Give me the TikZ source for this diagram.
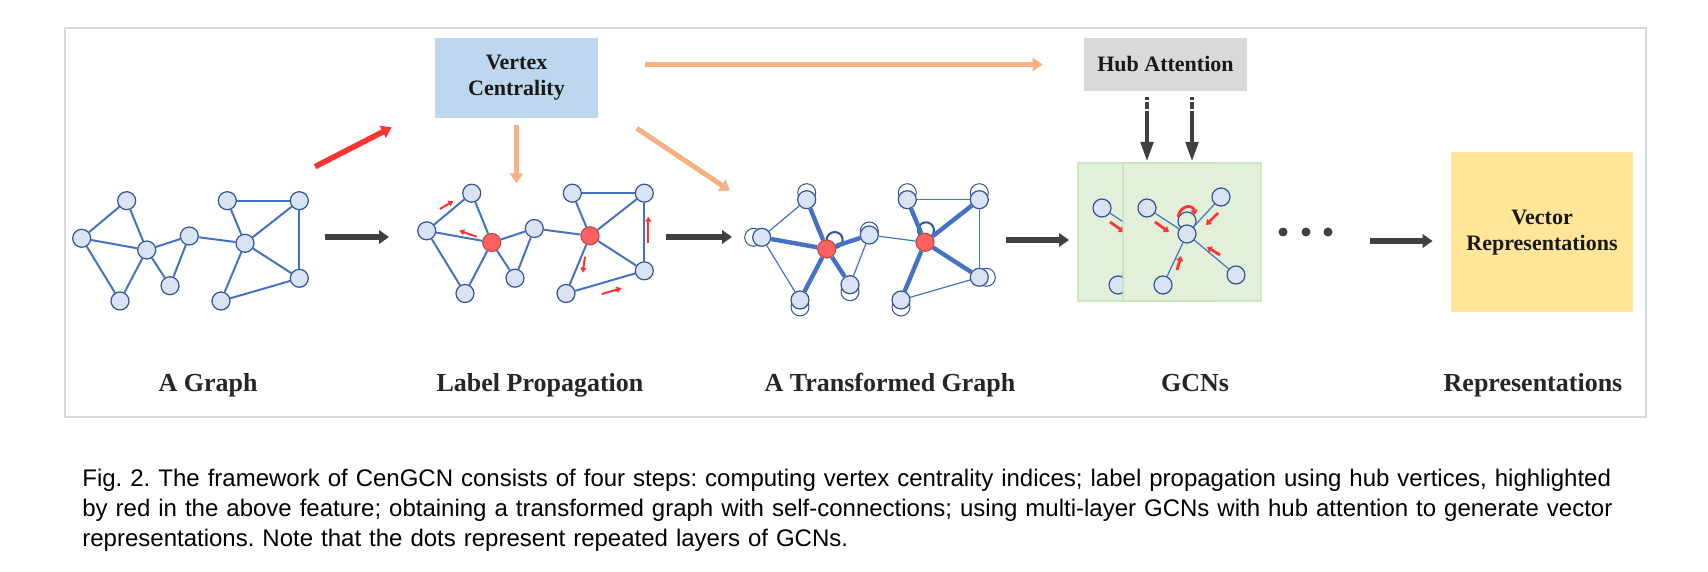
\documentclass[tikz,border=0pt]{standalone}
\usepackage{fontspec}
\setmainfont{Liberation Serif}
\newfontfamily\capfont{Liberation Sans}
\usepackage{tikz}
\usetikzlibrary{arrows.meta,calc,positioning}
\frenchspacing

\definecolor{edgeblue}{RGB}{68,114,196}
\definecolor{vtxfill}{RGB}{218,227,243}
\definecolor{vtxline}{RGB}{47,85,151}
\definecolor{hubred}{RGB}{255,97,97}
\definecolor{flowred}{RGB}{255,51,51}
\definecolor{peach}{RGB}{244,177,131}
\definecolor{darkarrow}{RGB}{64,64,64}
\definecolor{vcblue}{RGB}{189,215,238}
\definecolor{hubgray}{RGB}{217,217,217}
\definecolor{layergreen}{RGB}{226,240,217}
\definecolor{layerline}{RGB}{197,224,180}
\definecolor{vecgold}{RGB}{255,230,153}
\definecolor{framegray}{RGB}{217,217,217}
\definecolor{labelgray}{RGB}{38,38,38}

% vertices of the sample graph (A Graph frame), and its links
\newcommand{\graphvertices}{1/126.7/200.7/vtx, 2/81.7/238.3/vtx, 3/146.7/250/hub, 4/189.3/236/vtx,
  5/170/285.7/vtx, 6/120/301/vtx, 7/227.3/200.7/vtx, 8/299.3/200.7/vtx, 9/245/243.3/hub,
  10/299.3/278.3/vtx, 11/221/301/vtx}
\newcommand{\graphlinks}{1/2, 1/3, 2/3, 2/6, 3/6, 3/5, 3/4, 4/5, 4/9, 7/8, 7/9, 8/9, 8/10, 9/10, 9/11, 11/10}

\tikzset{
  vtx/.style={circle, draw=vtxline, fill=vtxfill, line width=0.6pt, minimum size=9pt, inner sep=0pt},
  hub/.style={vtx},
  redhub/.style={vtx, draw=hubred!75!black, fill=hubred},
  ghost/.style={circle, draw=vtxline, fill=white, line width=0.5pt, minimum size=9pt, inner sep=0pt},
  ring/.style={circle, draw=vtxline, line width=1pt, minimum size=8pt, inner sep=0pt},
  link/.style={draw=edgeblue, line width=1pt},
  thinlink/.style={draw=edgeblue, line width=0.6pt},
  thicklink/.style={draw=edgeblue, line width=2.2pt},
  flow/.style={draw=flowred, line width=1pt, -{Triangle[length=2.5pt,width=3pt]}},
  gcnflow/.style={draw=flowred, line width=1.4pt, -{Triangle[length=2.5pt,width=3.5pt]}},
  bigarrow/.style={draw=darkarrow, line width=3.3pt, -{Triangle[length=5pt,width=6.7pt]}},
  redarrow/.style={draw=flowred, line width=2.8pt, -{Triangle[length=5pt,width=6.5pt]}},
  peacharrow/.style={draw=peach, line width=2.5pt, -{Triangle[length=5pt,width=6.5pt]}},
  hubarrow/.style={draw=darkarrow, line width=2.4pt, dash pattern={on 1.2pt off 1pt on 3.6pt off 1pt on 80pt},
    -{Triangle[length=10pt,width=6pt]}},
  box/.style={rectangle, inner sep=0pt, font=\fontsize{11}{13}\selectfont\bfseries, align=center, text=black!90},
  gcnbox/.style={rectangle, fill=layergreen, draw=layerline, draw opacity=0.7, line width=1pt,
    minimum width=69pt, minimum height=69pt},
  dot/.style={circle, fill=darkarrow, minimum size=4.5pt, inner sep=0pt},
  steplabel/.style={anchor=base, font=\fontsize{13}{15}\selectfont\bfseries, text=labelgray},
  capstyle/.style={anchor=north west, inner sep=0pt, align=left, text width=800.5pt,
    font=\capfont\fontsize{12}{15}\selectfont},
}

\begin{document}
\begin{tikzpicture}[x=0.5pt,y=-0.5pt]
\useasboundingbox (0,0) rectangle (1708,572);
\draw[framegray, line width=1pt] (65,27.7) rectangle (1645.7,416.7);

% boxes
\node[box, fill=vcblue, minimum width=81.5pt, minimum height=40pt] (vc) at (516.5,78) {Vertex\\Centrality};
\node[box, fill=hubgray, minimum width=81.5pt, minimum height=26.5pt] (hub) at (1165.5,64.5) {Hub Attention};
\node[box, fill=vecgold, minimum width=91pt, minimum height=80pt] (vec) at (1542,232.5) {Vector\\Representations};

% A Graph
\begin{scope}[name prefix=ag-]
  \foreach \n/\x/\y/\s in \graphvertices \node[\s] (v\n) at (\x,\y) {};
  \foreach \a/\b in \graphlinks \draw[link] (v\a) -- (v\b);
\end{scope}

% Label Propagation
\begin{scope}[shift={(345,-7.5)}, name prefix=lp-, hub/.style={redhub}]
  \foreach \n/\x/\y/\s in \graphvertices \node[\s] (v\n) at (\x,\y) {};
  \foreach \a/\b in \graphlinks \draw[link] (v\a) -- (v\b);
  \draw[flow] (95,216.5) -- (108.3,208.5);
  \draw[flow] (131.7,244.2) -- (114.3,238.2);
  \draw[flow] (240,264.2) -- (237.7,280.2);
  \draw[flow] (256.7,301.5) -- (276.7,295.8);
  \draw[flow] (303.3,250.8) -- (303.3,224.2);
\end{scope}

% A Transformed Graph
\begin{scope}[shift={(680,-1)}, name prefix=tg-, hub/.style={redhub}]
  \foreach \n/\x/\y/\s in \graphvertices \coordinate (p\n) at (\x,\y);
  \foreach \n/\dx/\dy in {1/0/-7, 2/-8/0, 4/0/-4, 5/0/7, 6/0/7, 7/0/-7, 8/0/-7, 10/7/0, 11/0/7}
    \node[ghost] (s\n) at ([shift={(\dx,\dy)}]p\n) {};
  \node[ring] (r3) at ([shift={(8,-9)}]p3) {};
  \node[ring] (r9) at ([shift={(1,-12)}]p9) {};
  \foreach \n/\x/\y/\s in \graphvertices \node[\s] (v\n) at (p\n) {};
  \foreach \a/\b in {1/3, 2/3, 3/6, 3/5, 3/4, 7/9, 8/9, 9/10, 9/11} \draw[thicklink] (v\a) -- (v\b);
  \foreach \a/\b in {1/2, 2/6, 4/5, 4/9, 7/8, 8/10, 11/10} \draw[thinlink] (v\a) -- (v\b);
\end{scope}

% GCN layers
\foreach \nm/\cx in {back/1147, front/1192} {
  \node[gcnbox] (\nm) at (\cx,232) {};
  \begin{scope}[shift={(\cx-1192,0)}, name prefix=\nm-]
    \node[ring, minimum size=9pt, line width=0.6pt] (r) at (1187,221) {};
    \node[vtx] (a) at (1147,208) {};
    \node[vtx] (b) at (1221,197) {};
    \node[vtx] (c) at (1187,234) {};
    \node[vtx] (d) at (1236,275) {};
    \node[vtx] (e) at (1163,285) {};
    \foreach \t in {a,b,d,e} \draw[thinlink] (c) -- (\t);
    \draw[gcnflow] (1155,222) -- (1169,232);
    \draw[gcnflow] (1218,213) -- (1206,225);
    \draw[gcnflow] (1220,255) -- (1207,247);
    \draw[gcnflow] (1177,270) -- (1181,256);
    \draw[gcnflow] (1178,217) .. controls (1180,205) and (1193,204) .. (1195,215);
  \end{scope}
}

\node[dot] (d1) at (1283,232) {};
\node[dot] (d2) at (1306,232) {};
\node[dot] (d3) at (1328,232) {};

% arrows
\coordinate (s1) at (325,237);
\coordinate (e1) at (389,237);
\coordinate (s2) at (666,237);
\coordinate (e2) at (732,237);
\coordinate (s3) at (1006,240);
\coordinate (s4) at (1370,241);
\draw[bigarrow] (s1) -- (e1);
\draw[bigarrow] (s2) -- (e2);
\draw[bigarrow, shorten >=4pt] (s3) -- (s3 -| back.west);
\draw[bigarrow, shorten >=9pt] (s4) -- (s4 -| vec.west);

\coordinate (rs) at (315,166.7);
\coordinate (re) at (391.7,127.3);
\draw[redarrow] (rs) -- (re);

\coordinate (vcdown) at (516.5,183.3);
\coordinate (ds) at (636.7,128.3);
\coordinate (de) at (730,190.7);
\draw[peacharrow, shorten <=3.5pt] (vc.south) -- (vcdown);
\draw[peacharrow] (ds) -- (de);
\draw[peacharrow] ([xshift=23.5pt]vc.east |- hub.west) -- ([xshift=-20.5pt]hub.west);

\coordinate (ha1) at ($(hub.south)+(-18.5,6)$);
\coordinate (ha2) at ($(hub.south)+(26.5,6)$);
\draw[hubarrow] (ha1) -- (ha1 |- front.north);
\draw[hubarrow] (ha2) -- (ha2 |- front.north);

% step labels
\node[steplabel] (lab1) at (208,391) {A Graph};
\node[steplabel] (lab2) at (540,391) {Label Propagation};
\node[steplabel] (lab3) at (890,391) {A Transformed Graph};
\node[steplabel] (lab4) at (1195,391) {GCNs};
\node[steplabel] (lab5) at (1533,391) {Representations};

\node[capstyle] (caption) at (82,469) {%
\makebox[\linewidth][s]{Fig. 2. The framework of CenGCN consists of four steps: computing vertex centrality indices; label propagation using hub vertices, highlighted}\\
\makebox[\linewidth][s]{by red in the above feature; obtaining a transformed graph with self-connections; using multi-layer GCNs with hub attention to generate vector}\\
representations. Note that the dots represent repeated layers of GCNs.};
\end{tikzpicture}
\end{document}
